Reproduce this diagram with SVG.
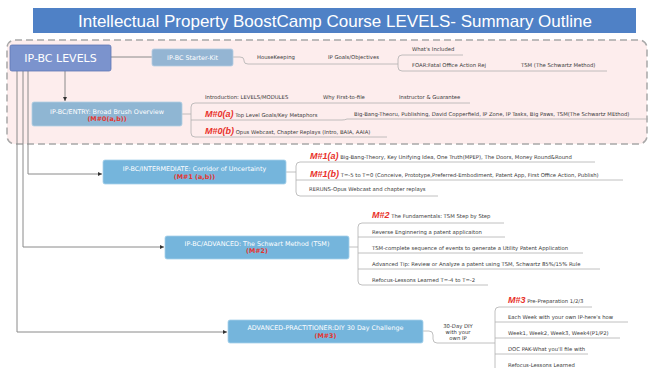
<svg xmlns="http://www.w3.org/2000/svg" width="650" height="368" viewBox="0 0 650 368">
<defs>
<style>
.t{font-family:"DejaVu Sans",Verdana,sans-serif;font-size:5.3px;fill:#3a3a3a}
.m{font-family:"Liberation Sans",Arial,sans-serif;font-size:9px;font-style:italic;font-weight:bold;fill:#e8312b}
.nt{font-family:"DejaVu Sans",Verdana,sans-serif;font-size:6.4px;fill:#ffffff;text-anchor:middle}
.nr{font-family:"DejaVu Sans",Verdana,sans-serif;font-size:6.4px;font-weight:bold;fill:#e5352f;text-anchor:middle}
.ln{fill:none;stroke:#b0b0b0;stroke-width:0.8}
.cn{fill:none;stroke:#8a8a8a;stroke-width:1}
.node{stroke-width:0.8}
</style>
<marker id="ah" viewBox="0 0 6 6" refX="6" refY="3" markerWidth="4" markerHeight="4" orient="auto">
<path d="M0,0 L6,3 L0,6 Z" fill="#333"/>
</marker>
</defs>
<rect width="650" height="368" fill="#ffffff"/>
<g id="title">
<rect x="33" y="8" width="603" height="25" fill="#4f81c6"/>
<text x="335" y="26.5" font-family="Liberation Sans, Arial, sans-serif" font-size="17" fill="#ffffff" text-anchor="middle">Intellectual Property BoostCamp Course LEVELS- Summary Outline</text>
</g>
<g id="region">
<rect x="7" y="40" width="640" height="104" rx="8" fill="#fdeded" stroke="#a8a8a8" stroke-width="1.5" stroke-dasharray="7,4"/>
</g>
<g id="connectors">
<path class="cn" d="M111,57 H152"/>
<path class="cn" d="M65,71 V101" marker-end="url(#ah)"/>
<path class="cn" d="M28,71 V174 H102" marker-end="url(#ah)"/>
<path class="cn" d="M23,71 V247 H164" marker-end="url(#ah)"/>
<path class="cn" d="M17,71 V332 H227" marker-end="url(#ah)"/>
<path class="ln" d="M233,57 H240 Q244,57 244,60 V61 Q244,64 248,64 H398"/>
<path class="ln" d="M398,64 V59 Q398,55 402,55 H463"/>
<path class="ln" d="M398,64 V67 Q398,71 402,71 H607"/>
<path class="ln" d="M182,114 H191"/>
<path class="ln" d="M191,107 Q191,103 195,103 H470"/>
<path class="ln" d="M191,107 V133 Q191,137 195,137 H387"/>
<path class="ln" d="M191,120 H342 Q345,120 347,119 H648"/>
<path class="ln" d="M286,172 H296"/>
<path class="ln" d="M296,166 Q296,162 300,162 H595"/>
<path class="ln" d="M296,166 V192 Q296,196 300,196 H438"/>
<path class="ln" d="M296,180 H623"/>
<path class="ln" d="M349,247 H358"/>
<path class="ln" d="M358,227 Q358,223 362,223 H504"/>
<path class="ln" d="M358,227 V281 Q358,285 362,285 H488"/>
<path class="ln" d="M358,237 H505"/>
<path class="ln" d="M358,253 H583"/>
<path class="ln" d="M358,269 H600"/>
<path class="ln" d="M423,331 H429 Q433,331 433,335 V339 Q433,343 437,343 H495"/>
<path class="ln" d="M495,311 Q495,307 499,307 H592"/>
<path class="ln" d="M495,311 V372"/>
<path class="ln" d="M495,322 H628"/>
<path class="ln" d="M495,338 H620"/>
<path class="ln" d="M495,354 H588"/>
<path class="ln" d="M495,370 H600"/>
</g>
<g id="root">
<rect class="node" x="10" y="45" width="101" height="26" rx="2" fill="#7b93cd" stroke="#6077b5"/>
<text x="60.5" y="62" font-family="DejaVu Sans, Verdana, sans-serif" font-size="11" fill="#ffffff" text-anchor="middle">IP-BC LEVELS</text>
</g>
<g id="starter">
<rect class="node" x="152" y="49" width="81" height="17" rx="2" fill="#94b5d3" stroke="#b4cde2"/>
<text class="nt" x="192.5" y="59.8" font-size="6">IP-BC Starter-Kit</text>
</g>
<g id="starter-items">
<text class="t" x="257" y="59">HouseKeeping</text>
<text class="t" x="328" y="59">IP Goals/Objectives</text>
<text class="t" x="412" y="51">What's Included</text>
<text class="t" x="412" y="67">FOAR:Fatal Office Action Rej</text>
<text class="t" x="521" y="67">TSM (The Schwartz Method)</text>
</g>
<g id="entry">
<rect class="node" x="32" y="102" width="150" height="24" rx="2" fill="#8fb6d3" stroke="#b2cfe3"/>
<text class="nt" x="107" y="113.5">IP-BC/ENTRY: Broad Brush Overview</text>
<text class="nr" x="107" y="121">(M#0(a,b))</text>
</g>
<g id="entry-items">
<text class="t" x="205" y="99">Introduction: LEVELS/MODULES</text>
<text class="t" x="323" y="99">Why First-to-file</text>
<text class="t" x="399" y="99">Instructor &amp; Guarantee</text>
<text class="t" x="205" y="117"><tspan class="m">M#0(a)</tspan> Top Level Goals/Key Metaphors</text>
<text class="t" x="354" y="116">Big-Bang-Theoru, Publishing, David Copperfield, IP Zone, IP Tasks, Big Paws, TSM(The Schwartz MEthod)</text>
<text class="t" x="205" y="134"><tspan class="m">M#0(b)</tspan> Opus Webcast, Chapter Replays (Intro, BAIA, AAIA)</text>
</g>
<g id="intermediate">
<rect class="node" x="103" y="160" width="183" height="24" rx="2" fill="#75b5dc" stroke="#a6d0ea"/>
<text class="nt" x="194.5" y="171.3">IP-BC/INTERMEDIATE: Corridor of Uncertainty</text>
<text class="nr" x="194.5" y="178.5">(M#1 (a,b))</text>
</g>
<g id="intermediate-items">
<text class="t" x="310" y="159"><tspan class="m">M#1(a)</tspan> Big-Bang-Theory, Key Unifying Idea, One Truth(MPEP), The Doors, Money Round&amp;Round</text>
<text class="t" x="310" y="177"><tspan class="m">M#1(b)</tspan> T=-5 to T=0 (Conceive, Prototype,Preferred-Embodiment, Patent App, First Office Action, Publish)</text>
<text class="t" x="309" y="191">RERUNS-Opus Webcast and chapter replays</text>
</g>
<g id="advanced">
<rect class="node" x="165" y="236" width="184" height="23" rx="2" fill="#75b5dc" stroke="#a6d0ea"/>
<text class="nt" x="257" y="245.5">IP-BC/ADVANCED: The Schwart Method (TSM)</text>
<text class="nr" x="257" y="253">(M#2)</text>
</g>
<g id="advanced-items">
<text class="t" x="372" y="218"><tspan class="m">M#2</tspan> The Fundamentals: TSM Step by Step</text>
<text class="t" x="372" y="234">Reverse Enginnering a patent applicaiton</text>
<text class="t" x="372" y="250">TSM-complete sequence of events to generate a Utility Patent Application</text>
<text class="t" x="372" y="266">Advanced Tip: Review or Analyze a patent using TSM, Schwartz 85%/15% Rule</text>
<text class="t" x="372" y="282">Refocus-Lessons Learned T=-4 to T=-2</text>
</g>
<g id="practitioner">
<rect class="node" x="228" y="320" width="195" height="23" rx="2" fill="#75b5dc" stroke="#a6d0ea"/>
<text class="nt" x="325.5" y="330">ADVANCED-PRACTITIONER:DIY 30 Day Challenge</text>
<text class="nr" x="325.5" y="337.5">(M#3)</text>
</g>
<g id="practitioner-items">
<text class="t" x="458" y="327.5" text-anchor="middle">30-Day DIY</text>
<text class="t" x="458" y="333.5" text-anchor="middle">with your</text>
<text class="t" x="458" y="339.5" text-anchor="middle">own IP</text>
<text class="t" x="508" y="303"><tspan class="m">M#3</tspan> Pre-Preparation 1/2/3</text>
<text class="t" x="508" y="319">Each Week with your own IP-here's how</text>
<text class="t" x="508" y="335">Week1, Week2, Week3, Week4(P1/P2)</text>
<text class="t" x="508" y="351">DOC PAK-What you'll file with</text>
<text class="t" x="508" y="367">Refocus-Lessons Learned</text>
</g>
</svg>
